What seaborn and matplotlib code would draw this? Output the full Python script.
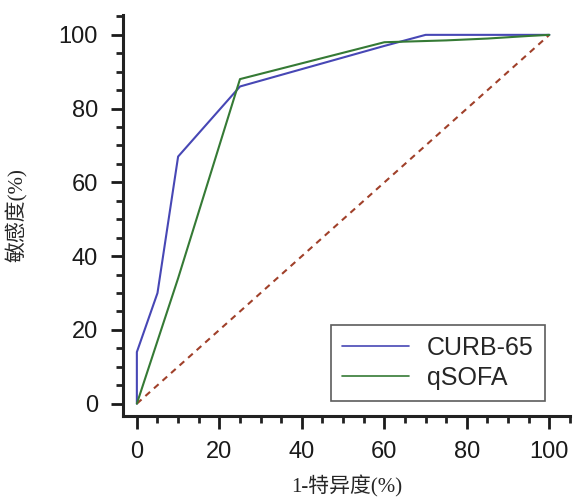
import numpy as np
import pandas as pd
import seaborn as sns
import matplotlib
matplotlib.use("Agg")
import matplotlib.pyplot as plt
from matplotlib.ticker import MultipleLocator

# ROC points (1-specificity %, sensitivity %)
curb_fpr = [0, 0, 5, 10, 25, 60, 70, 100]
curb_tpr = [0, 14, 30, 67, 86, 97, 100, 100]
qsofa_fpr = [0, 10, 25, 60, 75, 85, 95, 100]
qsofa_tpr = [0, 34, 88, 98, 98.5, 99, 99.7, 100]
ref_line = [0, 100]

sns.set_style("ticks")
plt.rcParams['font.family'] = ['Liberation Sans', 'DejaVu Sans']

df = pd.concat([
    pd.DataFrame({"fpr": curb_fpr, "tpr": curb_tpr, "model": "CURB-65"}),
    pd.DataFrame({"fpr": qsofa_fpr, "tpr": qsofa_tpr, "model": "qSOFA"}),
], ignore_index=True)
colors = {"CURB-65": "#4747b5", "qSOFA": "#357a35"}

fig = plt.figure(figsize=(5.74, 4.98), dpi=100)
ax = fig.add_axes([0.214, 0.165, 0.779, 0.805])

ax.plot(ref_line, ref_line, linestyle=(0, (3, 2.5)), color="#a0402a", lw=1.5, zorder=1)
sns.lineplot(data=df, x="fpr", y="tpr", hue="model", estimator=None, sort=False,
             palette=colors, lw=1.5, ax=ax, legend=False)
for name, c in colors.items():
    ax.plot([], [], color=c, lw=1.2, label=name)

ax.set_xlim(-3.4, 105)
ax.set_ylim(-3.3, 105.4)
ax.xaxis.set_major_locator(MultipleLocator(20))
ax.xaxis.set_minor_locator(MultipleLocator(5))
ax.yaxis.set_major_locator(MultipleLocator(20))
ax.yaxis.set_minor_locator(MultipleLocator(5))
ax.set_xticks(np.arange(0, 101, 20))
ax.set_yticks(np.arange(0, 101, 20))

sns.despine(ax=ax)
for s in ["left", "bottom"]:
    ax.spines[s].set_linewidth(2.2)
    ax.spines[s].set_color("#222222")
ax.tick_params(which="major", length=9, width=2, labelsize=17, pad=9, colors="#1a1a1a")
ax.tick_params(which="minor", length=5, width=2, colors="#222222")

lab_font = ['Liberation Serif', 'Noto Sans CJK SC']
ax.set_xlabel("1-特异度(%)", family=lab_font, fontsize=15, labelpad=9)
ax.set_ylabel("敏感度(%)", family=lab_font, fontsize=15, labelpad=22)

leg = ax.legend(loc="center", bbox_to_anchor=(0.704, 0.132), frameon=True, fancybox=False,
                fontsize=18, handlelength=2.7, borderpad=0.45, labelspacing=0.25,
                handletextpad=0.7, borderaxespad=0)
leg.get_frame().set_edgecolor("#333333")
leg.get_frame().set_linewidth(1.2)

fig.savefig("out.png", dpi=100)
